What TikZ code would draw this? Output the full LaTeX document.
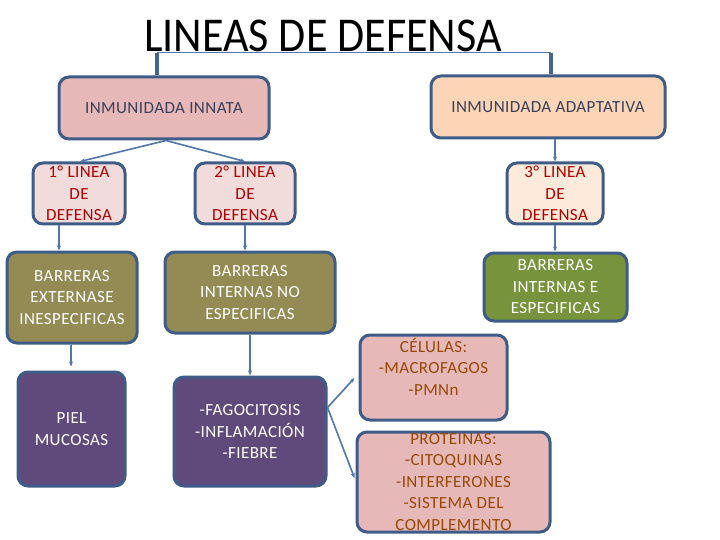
\documentclass[tikz,border=0pt]{standalone}
\usepackage{fontspec}
\setmainfont{Carlito}
\newfontfamily\boxfont[LetterSpace=2.5]{Carlito}
\usetikzlibrary{arrows.meta,calc}
\definecolor{bordc}{HTML}{3E5C87}
\definecolor{connc}{HTML}{4F76AD}
\definecolor{stubc}{HTML}{44658F}
\definecolor{pinkA}{HTML}{E6B9B8}
\definecolor{peach}{HTML}{FBD5B5}
\definecolor{pinkL}{HTML}{F2DCDB}
\definecolor{peachL}{HTML}{FDEADA}
\definecolor{olive}{HTML}{948A54}
\definecolor{greenA}{HTML}{77933C}
\definecolor{purpA}{HTML}{604A7B}
\definecolor{txtA}{HTML}{3A3F5C}
\definecolor{redA}{HTML}{B00000}
\definecolor{brownA}{HTML}{984807}
\tikzset{
  box/.style={draw=bordc, line width=3pt, rounded corners=10pt, inner sep=0pt,
    align=center, font=\boxfont\fontsize{17}{21.5}\selectfont},
  conn/.style={draw=connc, line width=1.6pt, -{Stealth[length=5pt,width=4pt]}},
  stub/.style={draw=stubc, line width=4.5pt},
}
\begin{document}
\begin{tikzpicture}[x=1pt,y=-1pt]
\useasboundingbox[fill=white] (0,0) rectangle (720,540);
\node[anchor=base, font=\fontsize{45}{45}\selectfont, inner sep=0pt] (title) at (323,52) {\scalebox{0.98}[1.08]{LINEAS DE DEFENSA}};
\coordinate (tl) at (157,53);
\coordinate (tr) at (551,53);

\node[box, fill=pinkA, text=txtA, minimum width=210, minimum height=62] (innata) at (164,108) {INMUNIDADA INNATA};
\node[box, fill=peach, text=txtA, minimum width=234, minimum height=62] (adapt) at (548,107) {INMUNIDADA ADAPTATIVA};

\node[box, fill=pinkL, text=redA, minimum width=92, minimum height=61] (l1) at (79,193.5) {1° LINEA\\DE\\DEFENSA};
\node[box, fill=pinkL, text=redA, minimum width=100, minimum height=61] (l2) at (245,193.5) {2° LINEA\\DE\\DEFENSA};
\node[box, fill=peachL, text=redA, minimum width=96, minimum height=61] (l3) at (555,193.5) {3° LINEA\\DE\\DEFENSA};

\node[box, fill=olive, text=white, minimum width=130, minimum height=91] (bext) at (72,297.5) {BARRERAS\\EXTERNASE\\INESPECIFICAS};
\node[box, fill=olive, text=white, minimum width=170, minimum height=81] (bint) at (250,292.5) {BARRERAS\\INTERNAS NO\\ESPECIFICAS};
\node[box, fill=greenA, text=white, minimum width=143, minimum height=68] (besp) at (555.5,287) {BARRERAS\\INTERNAS E\\ESPECIFICAS};

\node[box, fill=purpA, text=white, minimum width=107, minimum height=114] (piel) at (71.5,429) {PIEL\\MUCOSAS};
\node[box, fill=purpA, text=white, minimum width=152, minimum height=109] (fago) at (250,431.5) {-FAGOCITOSIS\\-INFLAMACIÓN\\-FIEBRE};

\node[box, fill=pinkA, text=brownA, minimum width=147, minimum height=85] (cel) at (433.5,377.5) {CÉLULAS:\\-MACROFAGOS\\-PMNn\\\mbox{}};
\node[box, fill=pinkA, text=brownA, minimum width=193, minimum height=100] (prot) at (453.5,482) {PROTEINAS:\\-CITOQUINAS\\-INTERFERONES\\-SISTEMA DEL\\COMPLEMENTO};

% title connectors
\draw[draw=connc, line width=1pt] (tl) -- (tr);
\draw[stub] (tl) -- (tl |- innata.north);
\draw[stub] (tr) -- (tr |- adapt.north);

% innata branches
\coordinate (isplit) at ($(innata.south)+(2,0)$);
\draw[conn] (isplit) -- ([xshift=1pt]l1.north);
\draw[conn] (isplit) -- (l2.north);
\draw[conn] (l3.north |- adapt.south) -- (l3.north);

% to barriers
\draw[conn] ([xshift=-20pt]l1.south) -- ([xshift=-20pt]l1.south |- bext.north);
\draw[conn] (l2.south) -- (l2.south |- bint.north);
\draw[conn] (l3.south) -- (l3.south |- besp.north);

% to bottom boxes
\draw[conn, shorten >=4pt] ([xshift=-1pt]bext.south) -- ([xshift=-1pt]bext.south |- piel.north);
\draw[conn] (bint.south) -- (fago.north);

% fago to cel/prot
\coordinate (fj) at ($(fago.east)+(0,-24)$);
\draw[conn] (fj) -- ($(cel.west)+(-4,0.5)$);
\draw[conn] (fj) -- ($(prot.west)+(-1,-4)$);
\end{tikzpicture}
\end{document}
